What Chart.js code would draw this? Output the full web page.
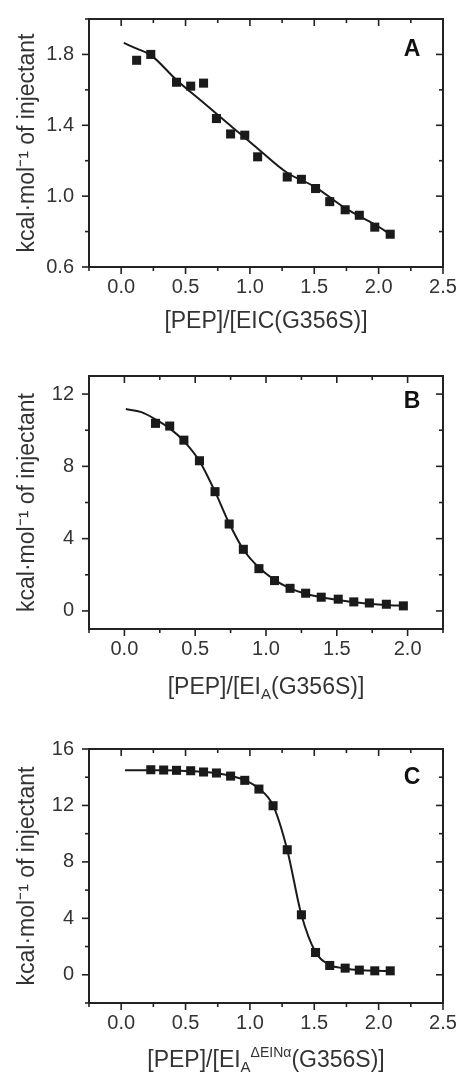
<!DOCTYPE html>
<html>
<head>
<meta charset="utf-8">
<script src="https://cdn.jsdelivr.net/npm/chart.js@4/dist/chart.umd.min.js"></script>
<style>
  body { margin: 0; background: #fff; width: 460px; height: 1072px; position: relative; overflow: hidden; }
  .panel { position: absolute; left: 0; width: 460px; }
</style>
</head>
<body>
<div class="panel" style="top:0;height:340px"><canvas id="chartA" width="460" height="340"></canvas></div>
<div class="panel" style="top:340px;height:360px"><canvas id="chartB" width="460" height="360"></canvas></div>
<div class="panel" style="top:700px;height:372px"><canvas id="chartC" width="460" height="372"></canvas></div>
<script>
// panel A: EIC(G356S)
const xA = [0.12, 0.23, 0.43, 0.54, 0.64, 0.74, 0.85, 0.96, 1.06, 1.29, 1.40, 1.51, 1.62, 1.74, 1.85, 1.97, 2.09];
const yA = [1.767, 1.80, 1.643, 1.621, 1.638, 1.438, 1.351, 1.344, 1.222, 1.108, 1.095, 1.043, 0.969, 0.923, 0.892, 0.825, 0.785];
const fitXA = [0.02, 0.12, 0.23, 0.43, 0.64, 0.85, 1.06, 1.29, 1.51, 1.74, 1.97, 2.09];
const fitYA = [1.865, 1.833, 1.796, 1.656, 1.527, 1.398, 1.269, 1.132, 1.05, 0.932, 0.84, 0.785];
const xTicksA = [0.0, 0.5, 1.0, 1.5, 2.0, 2.5];
const yTicksA = [0.6, 1.0, 1.4, 1.8];

// panel B: EI_A(G356S)
const xB = [0.22, 0.32, 0.42, 0.53, 0.64, 0.74, 0.84, 0.95, 1.06, 1.17, 1.28, 1.39, 1.51, 1.62, 1.73, 1.85, 1.97];
const yB = [10.38, 10.23, 9.45, 8.31, 6.6, 4.81, 3.41, 2.34, 1.68, 1.25, 0.98, 0.76, 0.65, 0.50, 0.44, 0.37, 0.28];
const fitXB = [0.01, 0.12, 0.22, 0.32, 0.42, 0.53, 0.64, 0.74, 0.84, 0.95, 1.06, 1.17, 1.28, 1.39, 1.51, 1.62, 1.73, 1.85, 1.97];
const fitYB = [11.17, 11.0, 10.6, 10.1, 9.4, 8.3, 6.6, 4.85, 3.4, 2.4, 1.72, 1.25, 0.95, 0.76, 0.6, 0.48, 0.4, 0.33, 0.28];
const xTicksB = [0.0, 0.5, 1.0, 1.5, 2.0];
const yTicksB = [0, 4, 8, 12];

// panel C: EI_A^dEINa(G356S)
const xC = [0.23, 0.33, 0.43, 0.54, 0.64, 0.74, 0.85, 0.96, 1.07, 1.18, 1.29, 1.40, 1.51, 1.62, 1.74, 1.85, 1.97, 2.09];
const yC = [14.53, 14.51, 14.49, 14.46, 14.37, 14.3, 14.08, 13.78, 13.16, 11.98, 8.86, 4.25, 1.58, 0.66, 0.47, 0.33, 0.28, 0.28];
const fitXC = [0.03, 0.23, 0.33, 0.43, 0.54, 0.64, 0.74, 0.85, 0.96, 1.07, 1.18, 1.29, 1.40, 1.51, 1.62, 1.74, 1.85, 1.97, 2.09];
const fitYC = [14.49, 14.5, 14.49, 14.47, 14.44, 14.38, 14.28, 14.1, 13.8, 13.2, 12.0, 8.85, 4.25, 1.6, 0.7, 0.45, 0.33, 0.28, 0.27];
const xTicksC = [0.0, 0.5, 1.0, 1.5, 2.0, 2.5];
const yTicksC = [0, 4, 8, 12, 16];

const yTitle = 'kcal·mol⁻¹ of injectant';
const FONT = '"Liberation Sans", Arial, sans-serif';
const INK = '#222';

// box, ticks, panel letter and the x title (needs sub/superscripts)
const framePlugin = {
  id: 'frame',
  afterDraw(chart, args, opts) {
    const { ctx, chartArea: a, scales: { x, y } } = chart;
    ctx.save();
    ctx.strokeStyle = INK;
    ctx.lineWidth = 1.6;

    const minors = (majors, min, max) => {
      const step = majors[1] - majors[0];
      const out = majors.map(v => v - step / 2);
      out.push(majors[majors.length - 1] + step / 2);
      return out.filter(v => v >= min - 1e-9 && v <= max + 1e-9);
    };
    const seg = (x1, y1, x2, y2) => { ctx.beginPath(); ctx.moveTo(x1, y1); ctx.lineTo(x2, y2); ctx.stroke(); };

    const xs = [...opts.xTicks.map(v => [v, 7]), ...minors(opts.xTicks, x.min, x.max).map(v => [v, 4])];
    xs.forEach(([v, len]) => {
      const p = x.getPixelForValue(v);
      seg(p, a.bottom, p, a.bottom + len);
      seg(p, a.top, p, a.top + len);
    });
    const ys = [...opts.yTicks.map(v => [v, 7]), ...minors(opts.yTicks, y.min, y.max).map(v => [v, 4])];
    ys.forEach(([v, len]) => {
      const p = y.getPixelForValue(v);
      seg(a.left - len, p, a.left, p);
      seg(a.right - len, p, a.right, p);
    });

    ctx.lineWidth = 2;
    ctx.strokeRect(a.left, a.top, a.right - a.left, a.bottom - a.top);

    // panel letter
    ctx.fillStyle = '#111';
    ctx.font = 'bold 23px ' + FONT;
    ctx.textAlign = 'center';
    ctx.textBaseline = 'middle';
    ctx.fillText(opts.letter, a.right - 31, a.top + opts.letterDy);

    // x title
    ctx.fillStyle = '#333';
    ctx.textAlign = 'left';
    ctx.textBaseline = 'alphabetic';
    const fontOf = p => (p.sub ? 15 : p.sup ? 14 : 23) + 'px ' + FONT;
    let total = 0;
    opts.xTitle.forEach(p => { ctx.font = fontOf(p); total += ctx.measureText(p.t).width; });
    let cx = (a.left + a.right) / 2 - total / 2;
    const base = a.bottom + opts.titleDy;
    opts.xTitle.forEach(p => {
      ctx.font = fontOf(p);
      const dy = p.sub ? 5 : p.sup ? -10 : 0;
      ctx.fillText(p.t, cx, base + dy);
      cx += ctx.measureText(p.t).width;
    });
    ctx.restore();
  }
};

function makePanel(id, h, top, bottom, px, py, fx, fy, xr, yr, xTicks, yTicks, digits, letter, letterDy, xTitle, titleDy) {
  const points = px.map((v, i) => ({ x: v, y: py[i] }));
  const fit = fx.map((v, i) => ({ x: v, y: fy[i] }));
  new Chart(document.getElementById(id), {
    type: 'scatter',
    data: {
      datasets: [
        {
          data: points,
          pointStyle: 'rect',
          pointRadius: 6.4,
          pointBackgroundColor: '#1a1a1a',
          pointBorderWidth: 0,
          order: 0
        },
        {
          data: fit,
          showLine: true,
          borderColor: '#1a1a1a',
          borderWidth: 2,
          pointRadius: 0,
          cubicInterpolationMode: 'monotone',
          order: 1
        }
      ]
    },
    options: {
      responsive: false,
      animation: false,
      events: [],
      layout: { padding: { top: top, right: 17, left: 0, bottom: 0 } },
      plugins: {
        legend: { display: false },
        tooltip: { enabled: false },
        frame: { xTicks, yTicks, letter, letterDy, xTitle, titleDy }
      },
      scales: {
        x: {
          type: 'linear',
          min: xr[0],
          max: xr[1],
          grid: { display: false },
          border: { display: false },
          afterBuildTicks: s => { s.ticks = xTicks.map(v => ({ value: v })); },
          afterFit: s => { s.height = h - bottom; },
          ticks: {
            color: '#333',
            font: { family: FONT, size: 20 },
            padding: 0,
            maxRotation: 0,
            callback: v => v.toFixed(1)
          }
        },
        y: {
          type: 'linear',
          min: yr[0],
          max: yr[1],
          grid: { display: false },
          border: { display: false },
          afterBuildTicks: s => { s.ticks = yTicks.map(v => ({ value: v })); },
          afterFit: s => { s.width = 89; },
          ticks: {
            color: '#333',
            font: { family: FONT, size: 20 },
            padding: 7,
            callback: v => v.toFixed(digits)
          },
          title: {
            display: true,
            text: yTitle,
            color: '#333',
            font: { family: FONT, size: 23 },
            padding: { top: 14, bottom: 0 }
          }
        }
      }
    },
    plugins: [framePlugin]
  });
}

makePanel('chartA', 340, 14, 267, xA, yA, fitXA, fitYA, [-0.25, 2.5], [0.6, 2.0], xTicksA, yTicksA, 1,
  'A', 31, [{ t: '[PEP]/[EIC(G356S)]' }], 61);
makePanel('chartB', 360, 36, 289, xB, yB, fitXB, fitYB, [-0.25, 2.25], [-1, 13], xTicksB, yTicksB, 0,
  'B', 26, [{ t: '[PEP]/[EI' }, { t: 'A', sub: true }, { t: '(G356S)]' }], 65);
makePanel('chartC', 372, 49, 303, xC, yC, fitXC, fitYC, [-0.25, 2.5], [-2, 16], xTicksC, yTicksC, 0,
  'C', 29, [{ t: '[PEP]/[EI' }, { t: 'A', sub: true }, { t: 'ΔEINα', sup: true }, { t: '(G356S)]' }], 64);
</script>
</body>
</html>
